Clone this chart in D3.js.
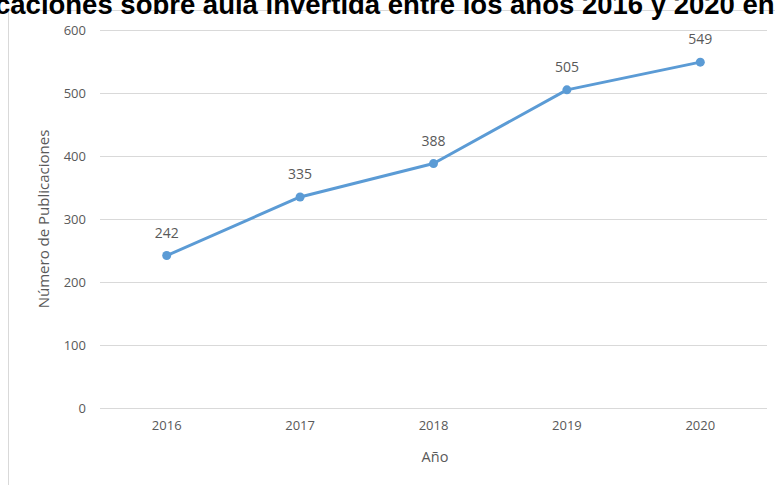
<!DOCTYPE html>
<html><head><meta charset="utf-8">
<script src="https://cdn.jsdelivr.net/npm/d3@7"></script>
<style>body{margin:0;background:#fff;}svg{display:block;}</style>
</head><body>
<script>
const years = ["2016","2017","2018","2019","2020"];
const publications = [242, 335, 388, 505, 549];
const yTicks = [0,100,200,300,400,500,600];
const titleText = "caciones sobre aula invertida entre los años 2016 y 2020 en Scopus";
const yTitle = "Número de Publicaciones";
const xTitle = "Año";

const W = 775, H = 485;
const svg = d3.select("body").append("svg").attr("width", W).attr("height", H);

// frame
svg.append("rect").attr("x",8.5).attr("y",10.5).attr("width",800).attr("height",500)
  .attr("fill","#fff").attr("stroke","#d9d9d9").attr("stroke-width",1);

const x = d3.scaleBand().domain(years).range([100, 767]);
const y = d3.scaleLinear().domain([0,600]).range([408, 30]);
const font = "'Open Sans', 'Noto Sans', sans-serif";
const grey = "#595959";

// grid
svg.append("g").selectAll("line").data(yTicks).join("line")
  .attr("x1",100).attr("x2",767).attr("y1",d=>y(d)+0.5).attr("y2",d=>y(d)+0.5)
  .attr("stroke","#d9d9d9").attr("stroke-width",1);

// y axis labels
const yAxis = svg.append("g").attr("transform","translate(86,0)")
  .call(d3.axisLeft(y).tickValues(yTicks).tickSize(0).tickPadding(0));
yAxis.select(".domain").remove();
yAxis.selectAll("text").attr("font-family",font).attr("font-size",13).attr("fill",grey);

// x axis labels
const xAxis = svg.append("g").attr("transform","translate(0,421)")
  .call(d3.axisBottom(x).tickSize(0).tickPadding(0));
xAxis.select(".domain").remove();
xAxis.selectAll("text").attr("font-family",font).attr("font-size",13).attr("fill",grey);

// axis titles
svg.append("text").attr("x",435).attr("y",462).attr("text-anchor","middle")
  .attr("font-family",font).attr("font-size",14.5).attr("fill",grey).text(xTitle);
svg.append("text").attr("transform","translate(49,219) rotate(-90)").attr("text-anchor","middle")
  .attr("font-family",font).attr("font-size",15).attr("fill",grey).text(yTitle);

// line
const cx = d => x(d) + x.bandwidth()/2;
svg.append("path").datum(publications.map((v,i)=>[years[i],v]))
  .attr("fill","none").attr("stroke","#5b9bd5").attr("stroke-width",3)
  .attr("stroke-linejoin","round").attr("stroke-linecap","round")
  .attr("d", d3.line().x(d=>cx(d[0])).y(d=>y(d[1])));

svg.append("g").selectAll("circle").data(publications).join("circle")
  .attr("cx",(d,i)=>cx(years[i])).attr("cy",d=>y(d)).attr("r",4.5)
  .attr("fill","#5b9bd5");

// data labels
svg.append("g").selectAll("text").data(publications).join("text")
  .attr("x",(d,i)=>cx(years[i])).attr("y",d=>y(d)-18).attr("text-anchor","middle")
  .attr("font-family",font).attr("font-size",14).attr("fill",grey).text(d=>d);

// title (clipped at top as in reference)
svg.append("text").attr("x",-5).attr("y",14).attr("font-family","'Liberation Sans', Arial, sans-serif")
  .attr("font-weight","bold").attr("font-size",27.5).attr("fill","#000").text(titleText);
</script>
</body></html>
